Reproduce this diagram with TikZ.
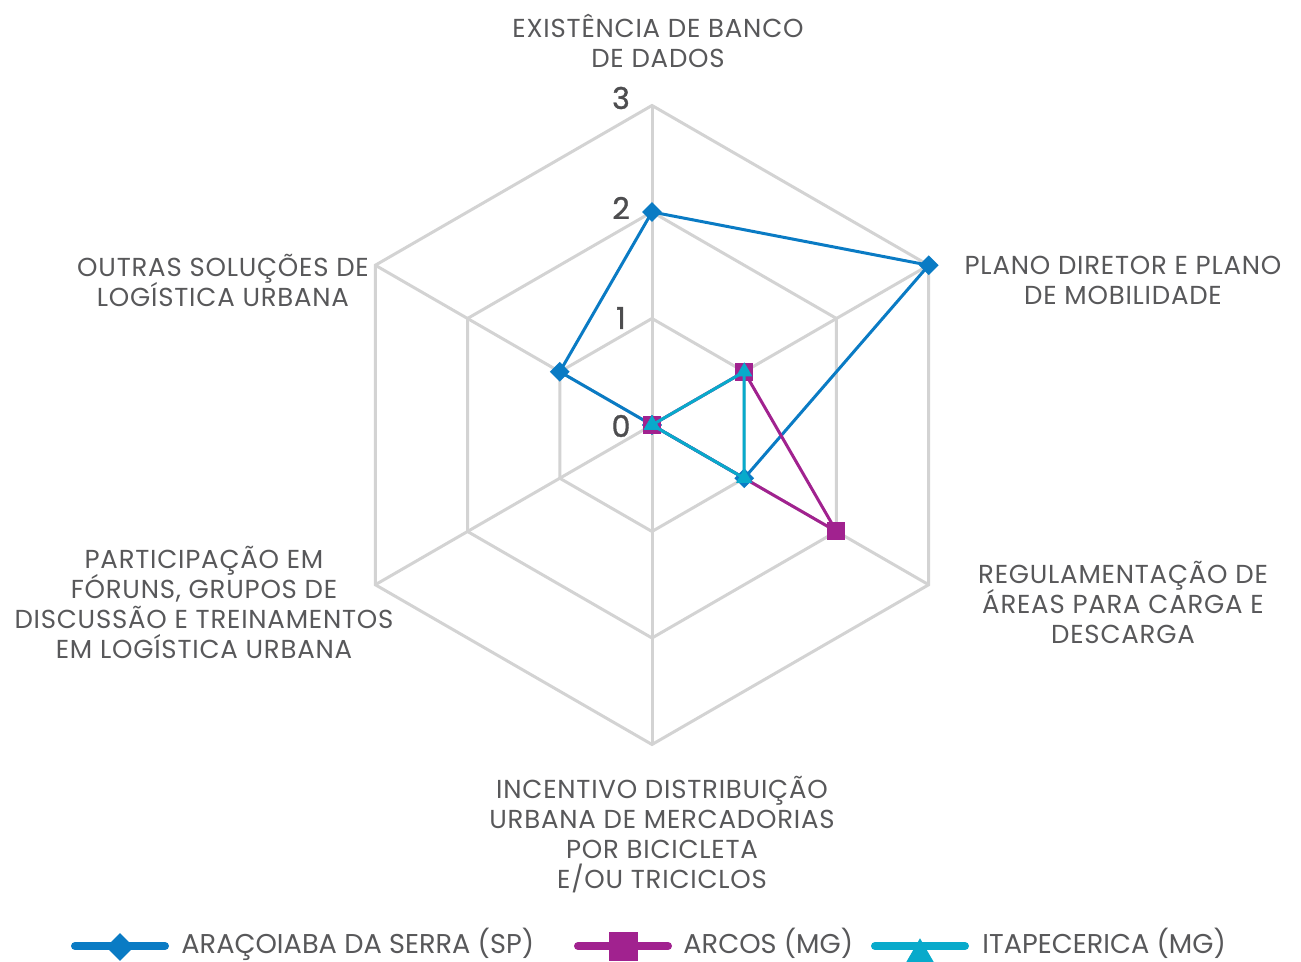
\documentclass[tikz,border=0pt]{standalone}
\usepackage{fontspec}
\setmainfont{Poppins}
\newfontfamily\numfont[FakeBold=1.2]{Poppins}
\usetikzlibrary{shapes.geometric}
\newcommand\tightlines{\setlength{\lineskiplimit}{-20pt}}

\definecolor{gridgray}{HTML}{D3D3D3}
\definecolor{labelgray}{HTML}{58585A}
\definecolor{numgray}{HTML}{4D4D4F}
\definecolor{serieblue}{HTML}{0A7BC4}
\definecolor{seriepurple}{HTML}{A1228F}
\definecolor{seriecyan}{HTML}{08AACB}

\tikzset{
  gridline/.style={draw=gridgray, line width=1.5pt},
  axislabel/.style={align=center, text=labelgray, inner sep=0pt,
    font=\fontsize{13}{15}\selectfont\addfontfeature{LetterSpace=3}\tightlines},
  levelnum/.style={text=numgray, inner sep=0pt, font=\numfont\fontsize{15}{15}\selectfont},
  serie/.style={line width=1.5pt, line join=round},
  diamarker/.style={diamond, fill=serieblue, inner sep=0pt, minimum size=10pt},
  sqmarker/.style={rectangle, fill=seriepurple, inner sep=0pt, minimum size=9pt},
  trimarker/.style={regular polygon, regular polygon sides=3, fill=seriecyan,
    inner sep=0pt, minimum size=9.5pt},
  legendline/.style={line width=4pt, line cap=round},
  legendtext/.style={anchor=base west, text=labelgray, inner sep=0pt,
    font=\fontsize{13.6}{13.6}\selectfont}
}

\begin{document}
\begin{tikzpicture}[x=0.5pt,y=0.5pt]
        \useasboundingbox (0,0) rectangle (1301,962);
        \coordinate (C) at (652,537);
        % grid
        \foreach \r in {1,2,3}
        \draw[gridline] ([shift={(C)}]90:{106.5*\r}) -- ([shift={(C)}]30:{106.5*\r})
          -- ([shift={(C)}]-30:{106.5*\r}) -- ([shift={(C)}]-90:{106.5*\r})
          -- ([shift={(C)}]210:{106.5*\r}) -- ([shift={(C)}]150:{106.5*\r}) -- cycle;
        \foreach \a in {90,30,-30,-90,210,150}
        \draw[gridline] (C) -- ([shift={(C)}]\a:319.5);
        % scale numbers
        \foreach \n/\y in {0/536,1/644,2/754,3/864}
        \node[levelnum] (num\n) at (621,\y) {\n};
        % axis labels
        \node[axislabel] (lblBanco) at (658,921) {EXISTÊNCIA DE BANCO\\DE DADOS};
        \node[axislabel] (lblPlano) at (1123,682) {PLANO DIRETOR E PLANO\\DE MOBILIDADE};
        \node[axislabel] (lblCarga) at (1123,360) {REGULAMENTAÇÃO DE\\ÁREAS PARA CARGA E\\DESCARGA};
        \node[axislabel] (lblBici) at (662,127) {INCENTIVO DISTRIBUIÇÃO\\URBANA DE MERCADORIAS\\POR BICICLETA\\E/OU TRICICLOS};
        \node[axislabel] (lblForum) at (204,360) {PARTICIPAÇÃO EM\\FÓRUNS, GRUPOS DE\\DISCUSSÃO E TREINAMENTOS\\EM LOGÍSTICA URBANA};
        \node[axislabel] (lblOutras) at (223,682) {OUTRAS SOLUÇÕES DE\\LOGÍSTICA URBANA};
        % series
        \foreach \v [count=\i from 0] in {2,3,1,0,0,1}
        \coordinate (ara\i) at ([shift={(C)}]{90-60*\i}:{106.5*\v});
        \foreach \v [count=\i from 0] in {0,1,2,0,0,0}
        \coordinate (arc\i) at ([shift={(C)}]{90-60*\i}:{106.5*\v});
        \foreach \v [count=\i from 0] in {0,1,1,0,0,0}
        \coordinate (ita\i) at ([shift={(C)}]{90-60*\i}:{106.5*\v});
        \draw[serie, serieblue] (ara0) -- (ara1) -- (ara2) -- (ara3) -- (ara4) -- (ara5) -- cycle;
        \foreach \i in {0,...,5}
        \node[diamarker] (araM\i) at (ara\i) {};
        \draw[serie, seriepurple] (arc0) -- (arc1) -- (arc2) -- (arc3) -- (arc4) -- (arc5) -- cycle;
        \foreach \i in {0,...,5}
        \node[sqmarker] (arcM\i) at (arc\i) {};
        \draw[serie, seriecyan] (ita0) -- (ita1) -- (ita2) -- (ita3) -- (ita4) -- (ita5) -- cycle;
        \foreach \i in {0,...,5}
        \node[trimarker] (itaM\i) at (ita\i) {};
        % legend
        \coordinate (legAraL) at (75,16);
        \coordinate (legAraR) at (165,16);
        \draw[legendline, serieblue] (legAraL) -- (legAraR);
        \node[diamarker, minimum size=14pt] (legAraM) at (120,15) {};
        \node[legendtext] (legAra) at (181,8) {ARAÇOIABA DA SERRA (SP)};
        \coordinate (legArcL) at (578,16);
        \coordinate (legArcR) at (668,16);
        \draw[legendline, seriepurple] (legArcL) -- (legArcR);
        \node[sqmarker, minimum size=14.5pt] (legArcM) at (623,15) {};
        \node[legendtext] (legArc) at (683,8) {ARCOS (MG)};
        \coordinate (legItaL) at (875,16);
        \coordinate (legItaR) at (965,16);
        \draw[legendline, seriecyan] (legItaL) -- (legItaR);
        \node[trimarker, minimum size=16.7pt] (legItaM) at (920,7) {};
        \node[legendtext] (legIta) at (982,8) {ITAPECERICA (MG)};
\end{tikzpicture}
\end{document}
